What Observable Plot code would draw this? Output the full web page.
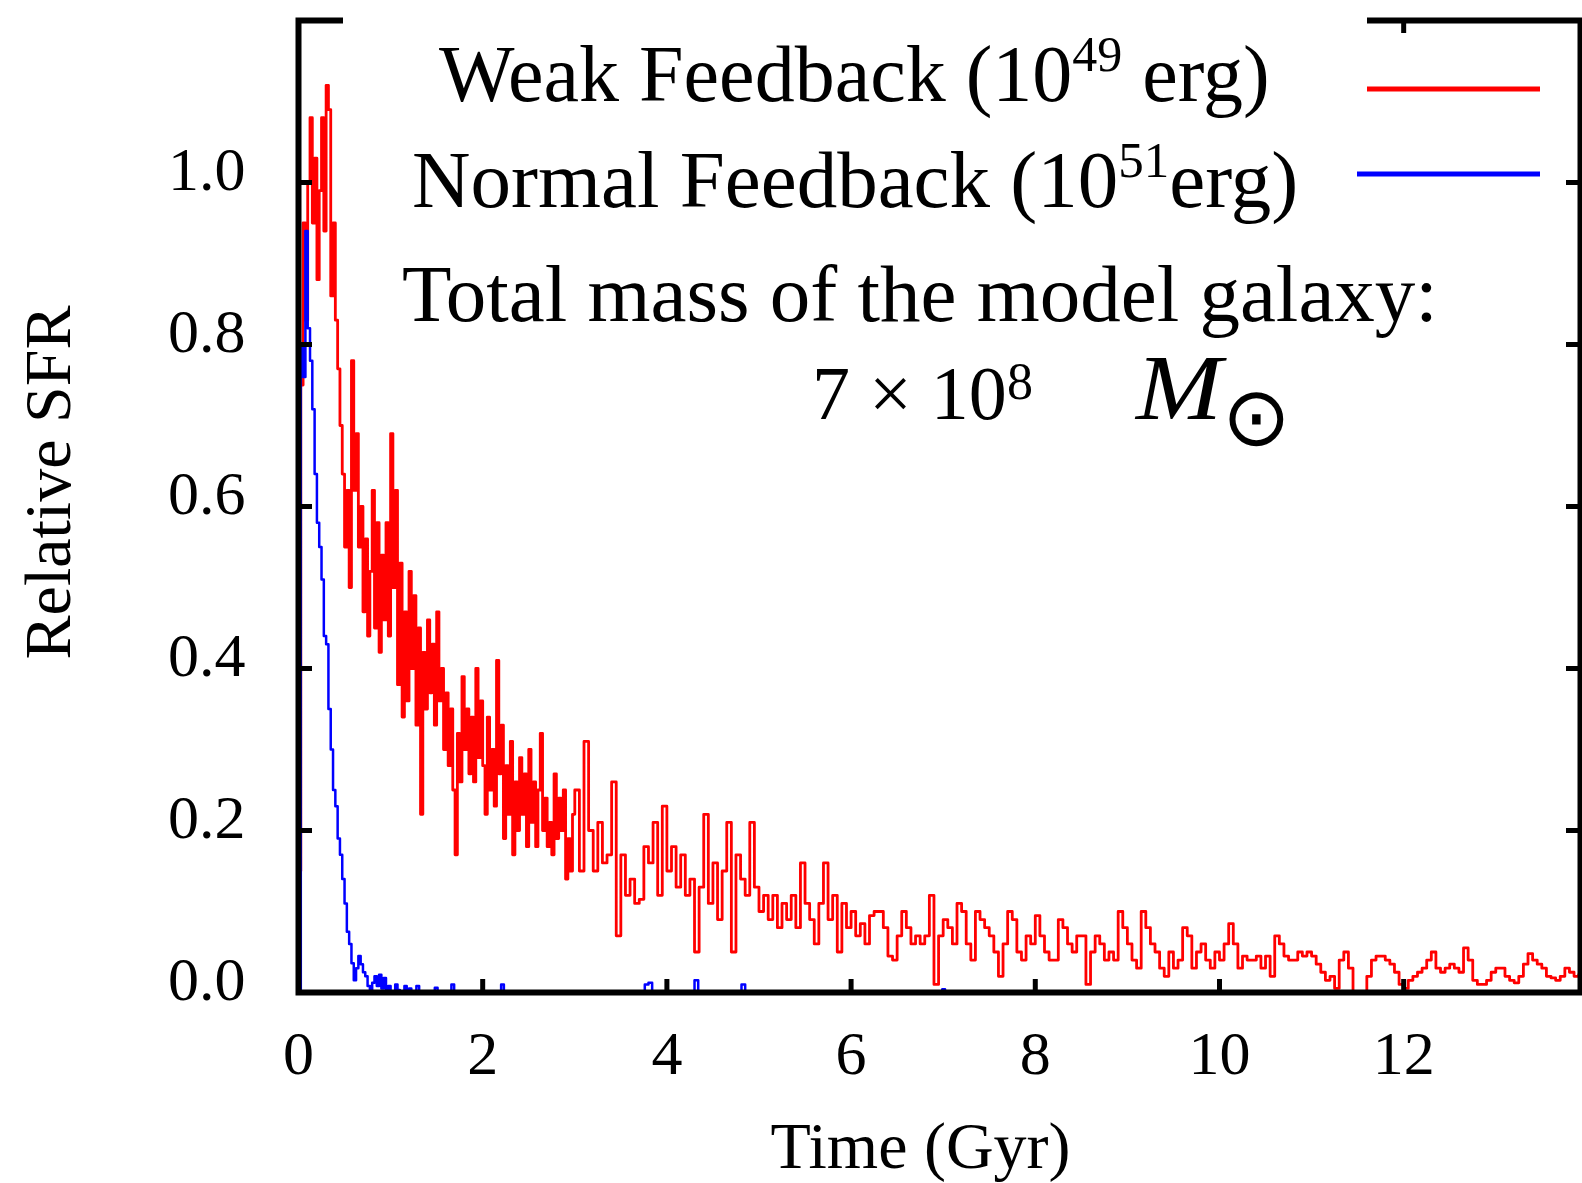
<!DOCTYPE html>
<html>
<head>
<meta charset="utf-8">
<script src="https://cdn.jsdelivr.net/npm/d3@7"></script>
<script src="https://cdn.jsdelivr.net/npm/@observablehq/plot@0.6"></script>
<style>
  html, body { margin: 0; padding: 0; background: #fff; }
  #chart { position: relative; width: 1582px; height: 1183px; }
</style>
</head>
<body>
<div id="chart"></div>
<script>
// ---------------- data ----------------
const xTicks = [0, 2, 4, 6, 8, 10, 12];
const yTicks = [0, 0.2, 0.4, 0.6, 0.8, 1.0];
const xDomain = [0, 13.92];
const yDomain = [0, 1.2];
const xLabel = "Time (Gyr)";
const yLabel = "Relative SFR";
const seriesColors = ["#ff0000", "#0000ff"];

// Weak feedback (red): early part sampled every 0.025 Gyr from 0
const weakEarlyStart = 0, weakEarlyStep = 0.025;
const weakEarly = [
  0.15,0.75,0.95,0.83,1.00,1.08,0.95,1.03,0.88,0.99,
  1.08,0.94,1.12,1.09,0.86,0.95,0.83,0.77,0.70,0.64,
  0.55,0.62,0.50,0.78,0.62,0.69,0.55,0.60,0.47,0.56,
  0.44,0.52,0.62,0.45,0.58,0.42,0.54,0.46,0.58,0.44,
  0.69,0.50,0.62,0.38,0.53,0.34,0.47,0.36,0.52,0.40,
  0.49,0.33,0.45,0.22,0.42,0.35,0.46,0.37,0.43,0.33,
  0.47,0.36,0.40,0.30,0.37,0.28,0.35,0.25,0.17,0.32,
  0.26,0.39,0.30,0.35,0.27,0.34,0.26,0.40,0.29,0.36,
  0.28,0.22,0.34,0.25,0.30,0.23,0.41,0.27,0.33,0.19,
  0.28,0.22,0.31,0.17,0.26,0.20,0.29,0.22,0.27,0.18,
  0.30,0.21,0.26,0.18,0.25,0.32,0.20,0.24,0.18,0.21,
  0.17,0.27,0.19,0.24,0.20,0.25,0.14,0.19,0.15,0.22
];
// Weak feedback (red): late part sampled every 0.05 Gyr from 3.0
const weakLateStart = 3.0, weakLateStep = 0.05;
const weakLate = [
  0.25,0.15,0.31,0.20,0.15,0.21,0.16,0.17,0.26,0.07,
  0.17,0.12,0.14,0.11,0.115,0.18,0.16,0.21,0.12,0.23,
  0.15,0.18,0.13,0.17,0.12,0.14,0.05,0.13,0.22,0.11,
  0.16,0.09,0.15,0.21,0.05,0.17,0.14,0.12,0.21,0.13,
  0.10,0.12,0.09,0.12,0.08,0.11,0.09,0.12,0.08,0.16,
  0.11,0.09,0.06,0.11,0.16,0.09,0.12,0.05,0.11,0.08,
  0.10,0.07,0.085,0.06,0.095,0.10,0.10,0.08,0.045,0.04,
  0.07,0.10,0.08,0.06,0.07,0.06,0.07,0.12,0.01,0.07,
  0.09,0.08,0.06,0.11,0.10,0.06,0.04,0.10,0.09,0.08,
  0.07,0.05,0.02,0.06,0.10,0.09,0.05,0.04,0.07,0.06,
  0.095,0.07,0.05,0.04,0.04,0.09,0.08,0.06,0.05,0.07,
  0.07,0.01,0.05,0.07,0.06,0.04,0.05,0.04,0.10,0.08,
  0.06,0.04,0.03,0.10,0.08,0.06,0.05,0.03,0.02,0.05,
  0.03,0.04,0.08,0.07,0.03,0.05,0.06,0.04,0.03,0.05,
  0.04,0.06,0.085,0.06,0.03,0.045,0.04,0.04,0.045,0.03,
  0.045,0.02,0.07,0.06,0.045,0.04,0.04,0.05,0.045,0.05,
  0.045,0.035,0.025,0.015,0.02,0.005,0.04,0.05,0.03,0.0,
  0.0,0.0,0.02,0.04,0.045,0.045,0.04,0.035,0.025,0.01,
  0.005,0.015,0.02,0.025,0.03,0.04,0.05,0.03,0.025,0.03,
  0.035,0.03,0.025,0.055,0.04,0.015,0.01,0.01,0.015,0.025,
  0.03,0.03,0.02,0.015,0.012,0.02,0.035,0.048,0.04,0.035,
  0.03,0.02,0.018,0.015,0.02,0.03,0.025,0.02,0.022
];

// Normal feedback (blue): early part sampled every 0.025 Gyr from 0
const normalEarlyStart = 0, normalEarlyStep = 0.025;
const normalEarly = [
  0.00,0.80,0.76,0.94,0.82,0.78,0.72,0.64,0.58,0.55,
  0.51,0.44,0.43,0.35,0.30,0.25,0.23,0.19,0.17,0.14,
  0.11,0.075,0.06,0.036,0.015,0.03,0.045,0.035,0.025,0.02,
  0.008,0.0,0.012,0.02,0.008,0.022,0.005,0.018,0.0,0.008,
  0.0,0.0,0.01,0.003,0.0,0.0,0.008,0.0,0.005,0.0
];
// Normal feedback (blue): isolated small bumps later on
const normalLateTime  = [1.28,1.31,1.45,1.48,1.51,1.63,1.66,1.69,2.17,2.20,2.23,3.72,3.76,3.80,3.84,4.26,4.30,4.34,4.77,4.81,4.85,6.96,6.99,7.02];
const normalLateValue = [0.008,0.0,0.0,0.006,0.0,0.0,0.01,0.0,0.0,0.01,0.0,0.0,0.01,0.012,0.0,0.0,0.015,0.0,0.0,0.01,0.0,0.0,0.004,0.0];

// ---------------- build tables ----------------
const weak = weakEarly.map((v, i) => ({t: weakEarlyStart + i * weakEarlyStep, v}))
  .filter(d => d.t < weakLateStart - 1e-9)
  .concat(weakLate.map((v, i) => ({t: weakLateStart + i * weakLateStep, v})));
const normal = normalEarly.map((v, i) => ({t: normalEarlyStart + i * normalEarlyStep, v}))
  .concat(normalLateTime.map((t, i) => ({t, v: normalLateValue[i]})));

// ---------------- layout ----------------
const W = 1582, H = 1183;
const mL = 298, mR = 2, mT = 20, mB = 191;
const plotW = W - mL - mR, plotH = H - mT - mB;
const FONT = "'Liberation Serif', 'Times New Roman', serif";

const plot = Plot.plot({
  width: W, height: H,
  marginLeft: mL, marginRight: mR, marginTop: mT, marginBottom: mB,
  style: {fontFamily: FONT, background: "white", color: "black", overflow: "visible"},
  x: {domain: xDomain, label: null},
  y: {domain: yDomain, label: null},
  marks: [
    Plot.line(weak, {x: "t", y: "v", stroke: seriesColors[0], strokeWidth: 2.8, curve: "step-after"}),
    Plot.line(normal, {x: "t", y: "v", stroke: seriesColors[1], strokeWidth: 2.5, curve: "step-after"}),
    Plot.frame({stroke: "black", strokeWidth: 6}),
    // inward ticks on all four sides
    Plot.tickX(xTicks, {x: d => d, insetTop: plotH - 13, stroke: "black", strokeWidth: 5}),
    Plot.tickX(xTicks, {x: d => d, insetBottom: plotH - 13, stroke: "black", strokeWidth: 5}),
    Plot.tickY(yTicks, {y: d => d, insetRight: plotW - 14, stroke: "black", strokeWidth: 5}),
    Plot.tickY(yTicks, {y: d => d, insetLeft: plotW - 14, stroke: "black", strokeWidth: 5}),
    // tick labels
    Plot.axisX(xTicks, {tickSize: 0, tickPadding: 37, fontSize: 62, tickFormat: d => String(d), label: null}),
    Plot.axisY(yTicks, {tickSize: 0, tickPadding: 53, fontSize: 62, tickFormat: d3.format(".1f"), dy: -12, label: null}),
    // axis titles
    Plot.text([xLabel], {frameAnchor: "bottom", text: d => d, fontSize: 66, dx: -19, dy: 154, lineAnchor: "middle", textAnchor: "middle"}),
    Plot.text([yLabel], {frameAnchor: "left", text: d => d, fontSize: 66, rotate: -90, dx: -250, dy: -24, lineAnchor: "middle", textAnchor: "middle"})
  ]
});

document.getElementById("chart").appendChild(plot);

// ---------------- legend / annotation ----------------
const svg = d3.select(plot);
// the legend box masks the top border of the frame
svg.append("rect").attr("x", 343).attr("y", 12).attr("width", 1024).attr("height", 24).attr("fill", "white");

const g = svg.append("g").attr("font-family", FONT).attr("fill", "black").attr("text-anchor", "start");

function supText(x, y, size, before, sup, after, supSize, rise) {
  const t = g.append("text").attr("x", x).attr("y", y).attr("font-size", size);
  t.append("tspan").text(before);
  t.append("tspan").attr("font-size", supSize).attr("dy", -rise).text(sup);
  if (after) t.append("tspan").attr("font-size", size).attr("dy", rise).text(after);
  return t;
}

supText(439, 101, 80, "Weak Feedback (10", "49", "\u00A0erg)", 50, 30);
supText(412, 207, 81, "Normal Feedback (10", "51", "erg)", 51, 30);
g.append("text").attr("x", 402).attr("y", 321).attr("font-size", 81).text("Total mass of the model galaxy:");
supText(812, 419, 76, "7 \u00D7 10", "8", null, 52, 20);
g.append("text").attr("x", 1136).attr("y", 419).attr("font-size", 94).attr("font-style", "italic")
  .attr("textLength", 86).attr("lengthAdjust", "spacingAndGlyphs").text("M");
g.append("text").attr("x", 1222).attr("y", 445).attr("font-size", 82)
  .attr("font-family", "'DejaVu Sans', sans-serif").attr("font-weight", 200).text("\u2299");

// legend swatches
svg.append("line").attr("x1", 1367).attr("x2", 1540).attr("y1", 89).attr("y2", 89)
  .attr("stroke", seriesColors[0]).attr("stroke-width", 5);
svg.append("line").attr("x1", 1357).attr("x2", 1540).attr("y1", 174).attr("y2", 174)
  .attr("stroke", seriesColors[1]).attr("stroke-width", 5);
</script>
</body>
</html>
